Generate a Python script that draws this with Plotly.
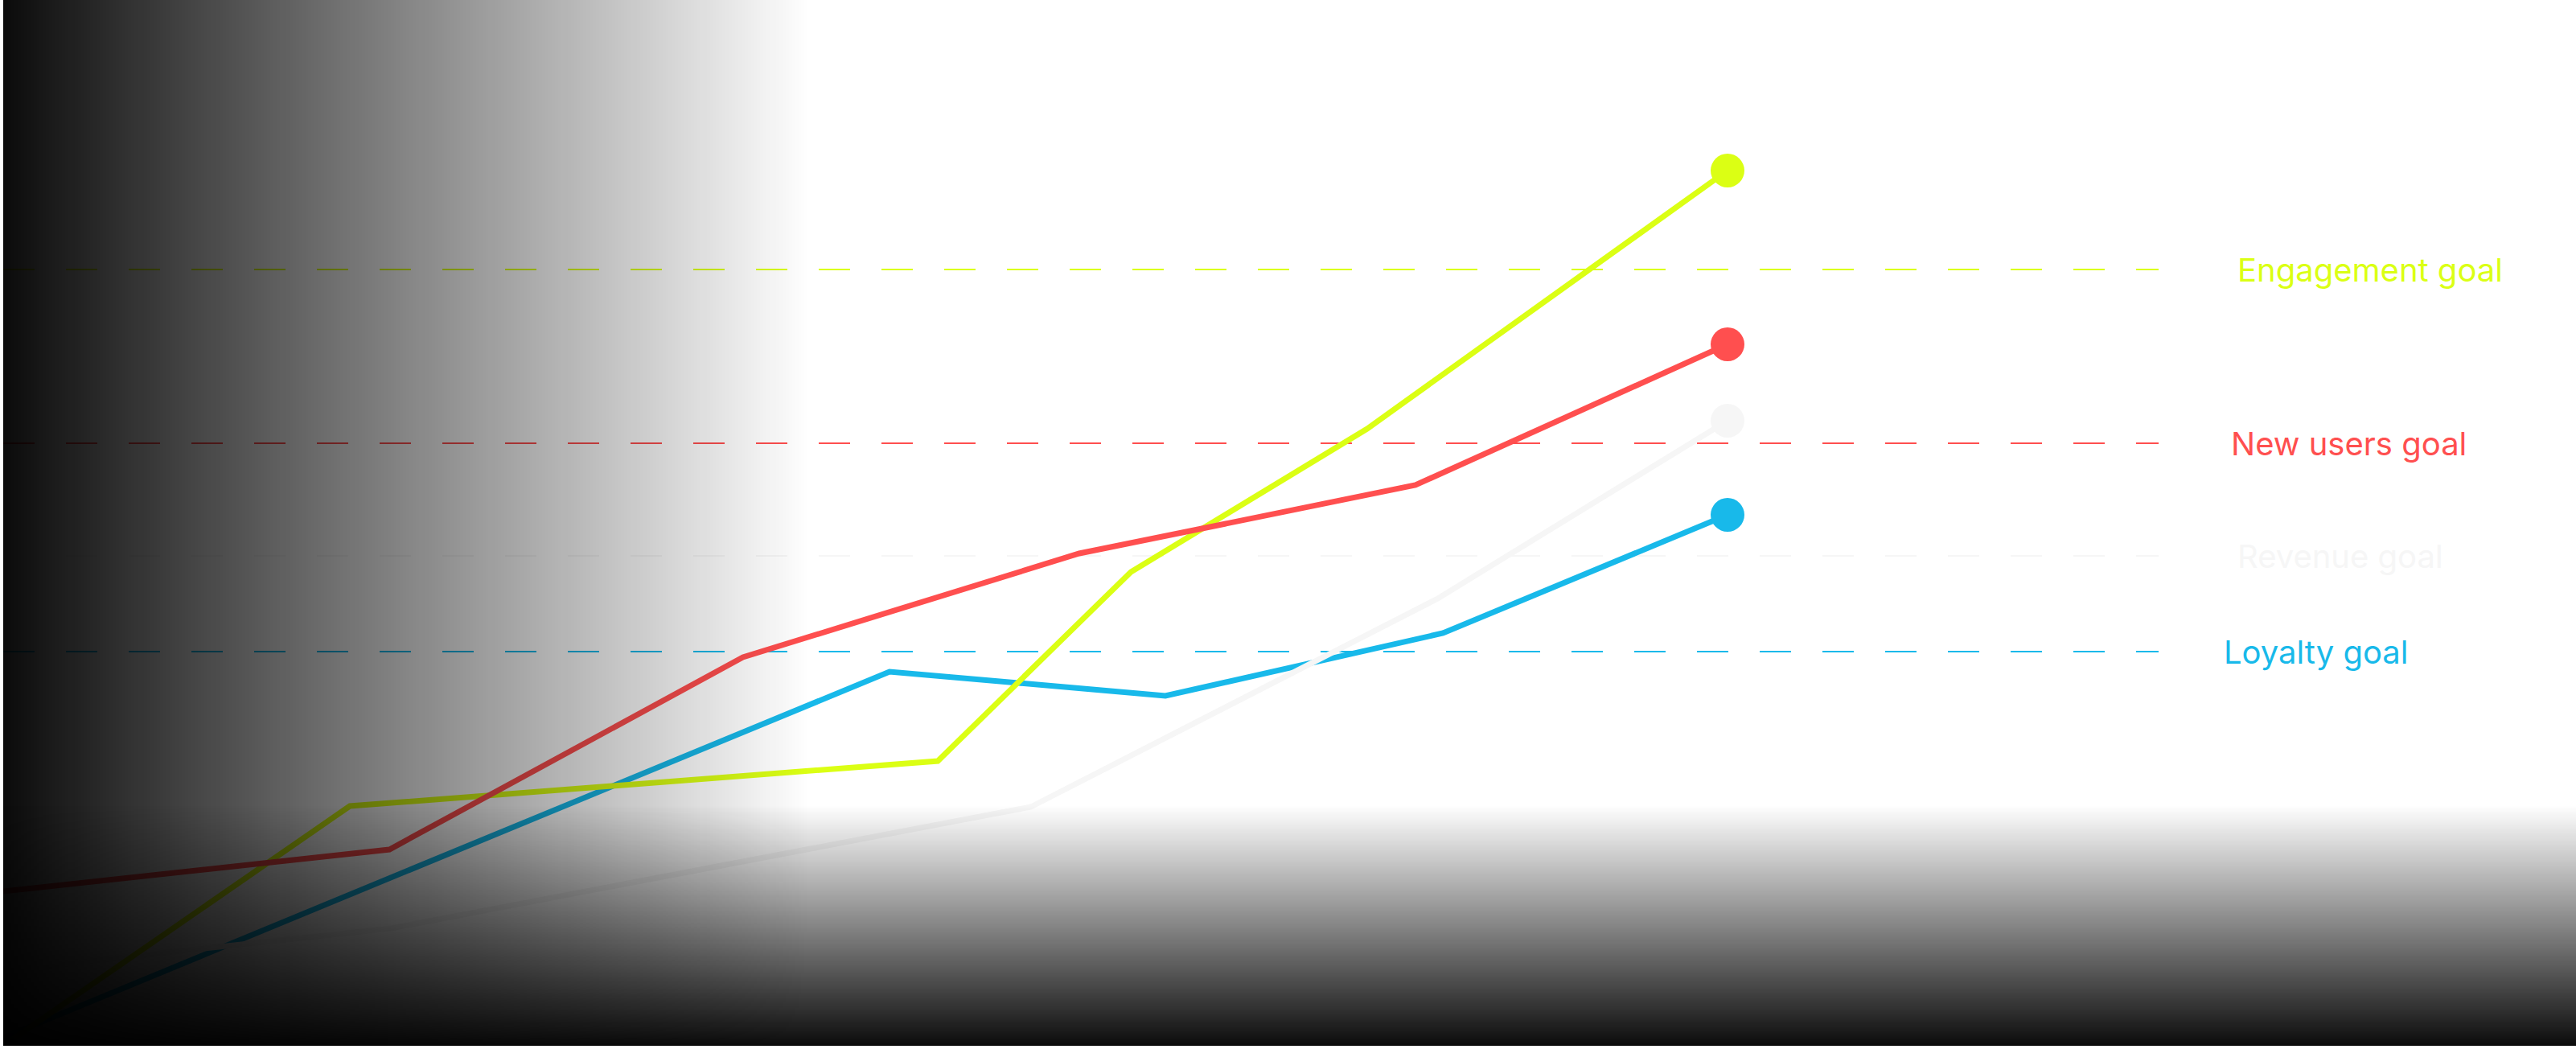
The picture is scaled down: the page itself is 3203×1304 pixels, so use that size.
import base64
import struct
import zlib

import plotly.graph_objects as go

# ---------------- data ----------------
series_names = ["Loyalty", "Revenue", "Engagement", "New users"]

loyalty_x = [0, 51.4, 67.4, 83.5, 100]
loyalty_y = [1.0, 46.5, 43.5, 51.3, 66.0]

revenue_x = [0, 6.5, 22.5, 59.6, 83.2, 100]
revenue_y = [9.1, 10.9, 14.6, 29.7, 55.6, 77.7]

engagement_x = [0, 20.1, 54.2, 65.4, 79.1, 100]
engagement_y = [0, 29.8, 35.4, 58.9, 76.7, 108.8]

new_users_x = [0, 22.4, 42.9, 62.4, 81.9, 100]
new_users_y = [19.2, 24.4, 48.3, 61.2, 69.7, 87.2]

goal_names = ["Engagement goal", "New users goal", "Revenue goal", "Loyalty goal"]
goal_values = [96.5, 74.9, 60.9, 49.0]
goal_span = [0, 125]

# ---------------- styles ----------------
COL = {
    "Engagement": "#dbff14",
    "New users": "#ff4f4f",
    "Revenue": "#f6f6f6",
    "Loyalty": "#18b9ea",
}
GOAL_COL = ["#dbff14", "#ff4f4f", "#f6f6f6", "#18b9ea"]
GOAL_TXT_COL = ["#dbff14", "#ff4f4f", "#f6f6f6", "#18b9ea"]
LABEL_X = [129.5, 129.1, 129.5, 128.7]

W, H = 3203, 1304
ML, MB = 4, 4
PX_PER_X = 21.44
X_MAX = (W - ML) / PX_PER_X
Y_MAX = (H - MB) / 10.0


def png_rgba(w, h, rows):
    raw = b"".join(b"\x00" + r for r in rows)

    def chunk(tag, data):
        c = struct.pack(">I", len(data)) + tag + data
        return c + struct.pack(">I", zlib.crc32(tag + data) & 0xFFFFFFFF)

    png = b"\x89PNG\r\n\x1a\n"
    png += chunk(b"IHDR", struct.pack(">IIBBBBB", w, h, 8, 6, 0, 0, 0))
    png += chunk(b"IDAT", zlib.compress(raw, 9))
    png += chunk(b"IEND", b"")
    return "data:image/png;base64," + base64.b64encode(png).decode()


N = 256
AMAX = 0.955
left_row = b"".join(bytes([0, 0, 0, int(round(255 * AMAX * (1 - i / (N - 1))))]) for i in range(N))
left_png = png_rgba(N, 1, [left_row])
bottom_rows = [bytes([0, 0, 0, int(round(255 * AMAX * (j / (N - 1))))]) for j in range(N)]
bottom_png = png_rgba(1, N, bottom_rows)

fig = go.Figure()

# goal lines
for name, val, col in zip(goal_names, goal_values, GOAL_COL):
    fig.add_trace(go.Scatter(
        x=goal_span, y=[val, val], mode="lines",
        line=dict(color=col, width=2, dash="39px,39px"),
        hoverinfo="skip", showlegend=False,
    ))

series = {
    "Loyalty": (loyalty_x, loyalty_y),
    "Revenue": (revenue_x, revenue_y),
    "Engagement": (engagement_x, engagement_y),
    "New users": (new_users_x, new_users_y),
}
for name in series_names:
    xs, ys = series[name]
    fig.add_trace(go.Scatter(
        x=xs, y=ys, mode="lines", name=name,
        line=dict(color=COL[name], width=7),
        showlegend=False,
    ))
for name in series_names:
    xs, ys = series[name]
    fig.add_trace(go.Scatter(
        x=[xs[-1]], y=[ys[-1]], mode="markers",
        marker=dict(color=COL[name], size=42, line=dict(width=0)),
        showlegend=False, cliponaxis=False,
    ))

for name, val, col, lx in zip(goal_names, goal_values, GOAL_TXT_COL, LABEL_X):
    fig.add_annotation(
        x=lx, y=val, xref="x", yref="y", text=name, showarrow=False,
        xanchor="left", yanchor="middle",
        font=dict(family="Inter, Roboto, sans-serif", size=40, color=col),
    )

fig.add_layout_image(dict(
    source=left_png, xref="paper", yref="paper",
    x=0, y=1, sizex=(1010 - ML) / (W - ML), sizey=1,
    xanchor="left", yanchor="top", sizing="stretch", layer="above",
))
fig.add_layout_image(dict(
    source=bottom_png, xref="paper", yref="paper",
    x=0, y=300 / (H - MB), sizex=1, sizey=300 / (H - MB),
    xanchor="left", yanchor="top", sizing="stretch", layer="above",
))

fig.update_layout(
    width=W, height=H,
    margin=dict(l=ML, r=0, t=0, b=MB, pad=0),
    paper_bgcolor="#ffffff", plot_bgcolor="#ffffff",
    xaxis=dict(range=[0, X_MAX], visible=False, showgrid=False, zeroline=False, fixedrange=True),
    yaxis=dict(range=[0, Y_MAX], visible=False, showgrid=False, zeroline=False, fixedrange=True),
    hovermode=False,
)

fig.write_html(
    "out.html",
    config={"displayModeBar": False},
    post_script="document.body.style.margin='0';document.body.style.overflow='hidden';",
)
